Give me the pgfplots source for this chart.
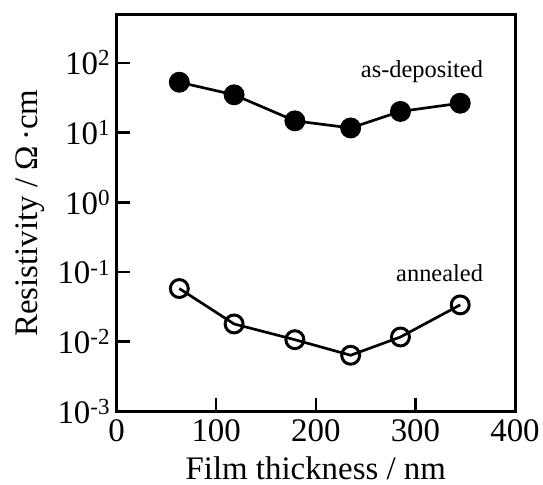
\documentclass[border=0pt]{standalone}
\usepackage{pgfplots}
\pgfplotsset{compat=1.18}
\usepackage{fontspec}
\setmainfont{Liberation Serif}
\begin{document}
\begin{tikzpicture}
\begin{axis}[
  at={(0,0)}, anchor=south west,
  scale only axis, width=400pt, height=398pt,
  xmin=0, xmax=400, ymode=log, ymin=1e-3, ymax=490,
  xtick={0,100,200,300,400}, xticklabels={0,100,200,300,400},
  ytick={1e-3,1e-2,1e-1,1,10,100},
  yticklabels={10\textsuperscript{-3},10\textsuperscript{-2},10\textsuperscript{-1},10\textsuperscript{0},10\textsuperscript{1},10\textsuperscript{2}},
  yminorticks=false, xminorticks=false,
  xtick pos=left, ytick pos=left, tick align=inside,
  major tick length=13pt,
  every tick/.style={line width=2.5pt, black},
  axis line style={line width=3pt},
  ticklabel style={font=\fontsize{33}{38}\selectfont},
  xticklabel style={yshift=-5pt},
  yticklabel style={xshift=-3pt},
  clip=false,
]
\addplot[black, line width=2.7pt, mark=*, mark size=10pt, mark options={fill=black, line width=1pt}] coordinates {
 (63,53) (118,35) (179,14.8) (235,11.7) (285,20.2) (345,26.5)
};
\addplot[black, line width=2.7pt, mark=o, mark size=9pt, mark options={fill=white, line width=3pt}] coordinates {
 (63,0.058) (118,0.018) (179,0.0107) (235,0.0064) (285,0.0117) (345,0.0338)
};
\node[anchor=base east, font=\fontsize{24.5}{29}\selectfont, inner sep=0pt] at (axis cs:368,61) {as-deposited};
\node[anchor=base east, font=\fontsize{24.5}{29}\selectfont, inner sep=0pt] at (axis cs:368,0.0743) {annealed};
\node[rotate=90, anchor=base, inner sep=0pt, font=\fontsize{33}{38}\selectfont] at ([xshift=-79pt]axis description cs:0,0.5) {Resistivity / Ω\,·cm};
\node[anchor=base, inner sep=0pt, font=\fontsize{33}{38}\selectfont] at ([yshift=-68pt]axis description cs:0.5,0) {Film thickness / nm};
\end{axis}
\path[use as bounding box] (-117pt,-73pt) rectangle (426pt,413pt);
\end{tikzpicture}
\end{document}
